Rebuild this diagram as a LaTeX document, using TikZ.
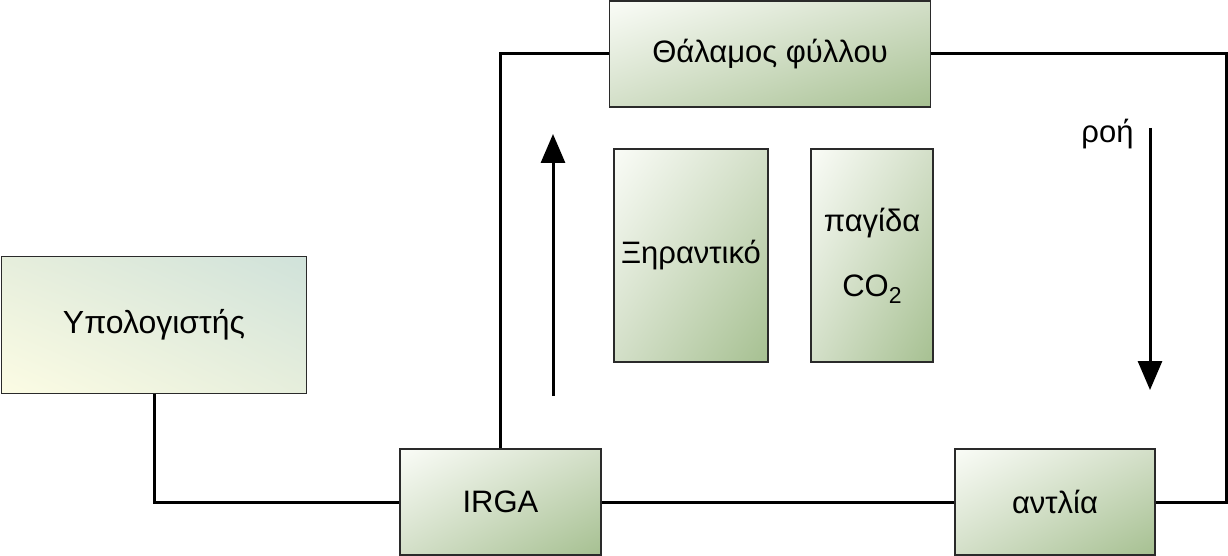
\documentclass[tikz,border=0pt]{standalone}
\usepackage{fontspec}
\setmainfont{Liberation Sans}
\usetikzlibrary{arrows.meta,shadings}
\definecolor{gwhite}{HTML}{FAFCF7}
\definecolor{gmid}{HTML}{D3DFC8}
\definecolor{gdark}{HTML}{A6C091}
\definecolor{pyel}{HTML}{FCFCE4}
\definecolor{pmid}{HTML}{E6EEDC}
\definecolor{pteal}{HTML}{D0E2DA}
\definecolor{bord}{HTML}{2A2A2A}
\newcommand{\subtwo}{\raisebox{-0.22em}{\fontsize{23}{23}\selectfont 2}}
\tikzset{
  unit/.style={draw=bord, line width=1.6pt, rectangle, inner sep=0pt,
    upper left=gwhite, upper right=gmid, lower left=gmid, lower right=gdark,
    font=\fontsize{31}{37}\selectfont, align=center},
  pcbox/.style={unit, upper left=pmid, upper right=pteal, lower left=pyel, lower right=pmid},
  pipe/.style={line width=3pt, black},
  flow/.style={line width=3pt, black, -{Triangle[width=24pt,length=29pt]}}
}
\begin{document}
\begin{tikzpicture}[x=1pt,y=-1pt]
\useasboundingbox (0,0) rectangle (1228,556);
\node[pcbox, minimum width=305pt, minimum height=137pt, font=\fontsize{32}{38}\selectfont] (pc) at (154,325) {Υπολογιστής};
\node[unit, minimum width=321pt, minimum height=106pt] (th) at (770,54) {Θάλαμος φύλλου};
\node[unit, minimum width=154pt, minimum height=213pt] (xi) at (691,255.5) {Ξηραντικό};
\node[unit, minimum width=122pt, minimum height=213pt, font=\fontsize{31}{65}\selectfont] (co) at (872,255.5) {παγίδα\\CO\subtwo};
\node[unit, minimum width=201pt, minimum height=106pt] (irga) at (500.5,502) {IRGA};
\node[unit, minimum width=200pt, minimum height=106pt] (pump) at (1055,502) {αντλία};
\coordinate (rc) at (1226,300);
\draw[pipe] (pc.south) |- (irga.west);
\draw[pipe] (irga.north) |- (th.west);
\draw[pipe] (th.east) -| (rc) |- (pump.east);
\draw[pipe] (irga.east) -- (pump.west);
\coordinate (upA) at (553,396);
\coordinate (upB) at (553,134);
\coordinate (dnA) at (1150,128);
\coordinate (dnB) at (1150,390);
\draw[flow] (upA) -- (upB);
\draw[flow] (dnA) -- (dnB);
\node[anchor=base, font=\fontsize{31}{37}\selectfont, inner sep=0pt] (roi) at (1107.5,143) {ροή};
\end{tikzpicture}
\end{document}
